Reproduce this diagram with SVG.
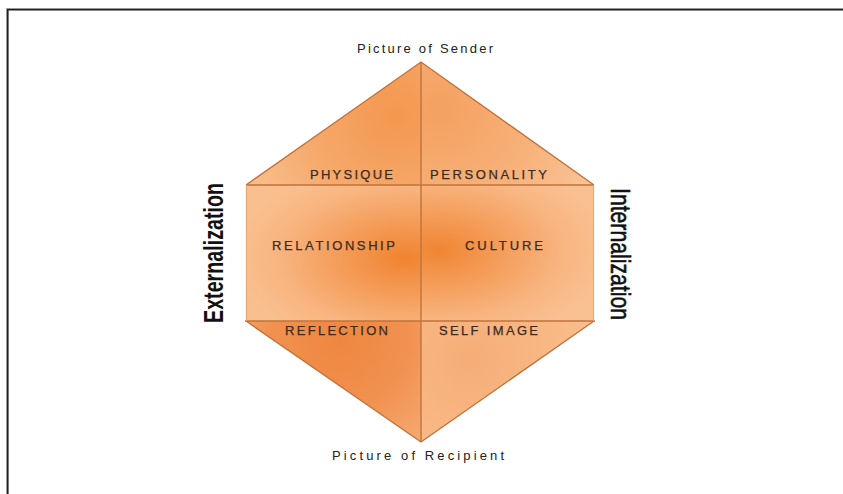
<svg xmlns="http://www.w3.org/2000/svg" width="843" height="494" viewBox="0 0 843 494">
<style>
  .edge{fill:none;stroke:#C0733A;stroke-width:1.4}
  .side{fill:none;stroke:#E9A874;stroke-width:1.2}
  .lbl{font-family:"Liberation Sans",Arial,sans-serif;font-size:13px;fill:#3a2b22;text-anchor:middle;stroke:#3a2b22;stroke-width:0.25}
  .pic{font-family:"Liberation Sans",Arial,sans-serif;font-size:13px;fill:#222;text-anchor:middle}
  .axis{font-family:"Liberation Sans",Arial,sans-serif;font-size:28px;fill:#111;text-anchor:middle}
</style>
<defs>
  <radialGradient id="gRectL" gradientUnits="userSpaceOnUse" cx="405" cy="258" r="100" gradientTransform="translate(405 258) scale(1.7 0.95) translate(-405 -258)">
    <stop offset="0" stop-color="#F08330"/>
    <stop offset="0.35" stop-color="#F49A55"/>
    <stop offset="0.75" stop-color="#F8B580"/>
    <stop offset="1" stop-color="#F9BF8F"/>
  </radialGradient>
  <radialGradient id="gRectR" gradientUnits="userSpaceOnUse" cx="438" cy="250" r="100" gradientTransform="translate(438 250) scale(1.7 0.95) translate(-438 -250)">
    <stop offset="0" stop-color="#F08532"/>
    <stop offset="0.35" stop-color="#F49C58"/>
    <stop offset="0.75" stop-color="#F8B682"/>
    <stop offset="1" stop-color="#F9C092"/>
  </radialGradient>
  <radialGradient id="gTopL" gradientUnits="userSpaceOnUse" cx="395" cy="115" r="150">
    <stop offset="0" stop-color="#F3974F"/>
    <stop offset="0.6" stop-color="#F6AA6C"/>
    <stop offset="1" stop-color="#F8BC8A"/>
  </radialGradient>
  <radialGradient id="gTopR" gradientUnits="userSpaceOnUse" cx="440" cy="110" r="160">
    <stop offset="0" stop-color="#F4A060"/>
    <stop offset="0.6" stop-color="#F7B27A"/>
    <stop offset="1" stop-color="#F9C194"/>
  </radialGradient>
  <radialGradient id="gBotL" gradientUnits="userSpaceOnUse" cx="340" cy="340" r="150">
    <stop offset="0" stop-color="#EF8640"/>
    <stop offset="0.45" stop-color="#F19150"/>
    <stop offset="1" stop-color="#F7B27E"/>
  </radialGradient>
  <radialGradient id="gBotR" gradientUnits="userSpaceOnUse" cx="470" cy="360" r="150">
    <stop offset="0" stop-color="#F6AD77"/>
    <stop offset="0.6" stop-color="#F8B986"/>
    <stop offset="1" stop-color="#F9C295"/>
  </radialGradient>
</defs>

<rect x="0" y="0" width="843" height="494" fill="#ffffff"/>
<path d="M6.5,494 V8.5 H843" fill="none" stroke="#9a9a9a" stroke-width="1"/>
<path d="M7.8,494 V9.8 H843" fill="none" stroke="#1e1e1e" stroke-width="1.6"/>

<g id="physique">
  <polygon points="421,62 421,185 246,185" fill="url(#gTopL)"/>
  <text class="lbl" x="351.5" y="179" textLength="83" lengthAdjust="spacing">PHYSIQUE</text>
</g>
<g id="personality">
  <polygon points="421,62 594,185 421,185" fill="url(#gTopR)"/>
  <text class="lbl" x="488.5" y="179" textLength="117" lengthAdjust="spacing">PERSONALITY</text>
</g>
<g id="relationship">
  <rect x="246" y="185" width="175" height="136" fill="url(#gRectL)"/>
  <text class="lbl" x="333.5" y="250" textLength="123" lengthAdjust="spacing">RELATIONSHIP</text>
</g>
<g id="culture">
  <rect x="421" y="185" width="173" height="136" fill="url(#gRectR)"/>
  <text class="lbl" x="504" y="250" textLength="78" lengthAdjust="spacing">CULTURE</text>
</g>
<g id="reflection">
  <polygon points="246,321 421,321 421,442" fill="url(#gBotL)"/>
  <text class="lbl" x="336.5" y="335" textLength="103" lengthAdjust="spacing">REFLECTION</text>
</g>
<g id="self-image">
  <polygon points="421,321 594,321 421,442" fill="url(#gBotR)"/>
  <text class="lbl" x="488.5" y="335" textLength="99" lengthAdjust="spacing">SELF IMAGE</text>
</g>

<g id="connectors">
  <polyline class="edge" points="246,185 421,62 594,185"/>
  <polyline class="edge" points="246,321 421,442 594,321"/>
  <line class="edge" x1="246" y1="185" x2="594" y2="185"/>
  <line class="edge" x1="245" y1="321" x2="595" y2="321" stroke-width="2"/>
  <line class="edge" x1="421" y1="62" x2="421" y2="442"/>
  <line class="side" x1="246.5" y1="185" x2="246.5" y2="321"/>
  <line class="side" x1="593.5" y1="185" x2="593.5" y2="321"/>
</g>

<g id="sender">
  <text class="pic" x="425" y="53" textLength="136" lengthAdjust="spacing">Picture of Sender</text>
</g>
<g id="recipient">
  <text class="pic" x="418" y="460" textLength="172" lengthAdjust="spacing">Picture of Recipient</text>
</g>
<g id="externalization">
  <text class="axis" font-weight="bold" transform="translate(223,253) rotate(-90)" x="0" y="0" textLength="140" lengthAdjust="spacingAndGlyphs">Externalization</text>
</g>
<g id="internalization">
  <text class="axis" transform="translate(611,254) rotate(90)" x="0" y="0" textLength="132" lengthAdjust="spacingAndGlyphs" stroke="#111" stroke-width="0.6">Internalization</text>
</g>
</svg>
